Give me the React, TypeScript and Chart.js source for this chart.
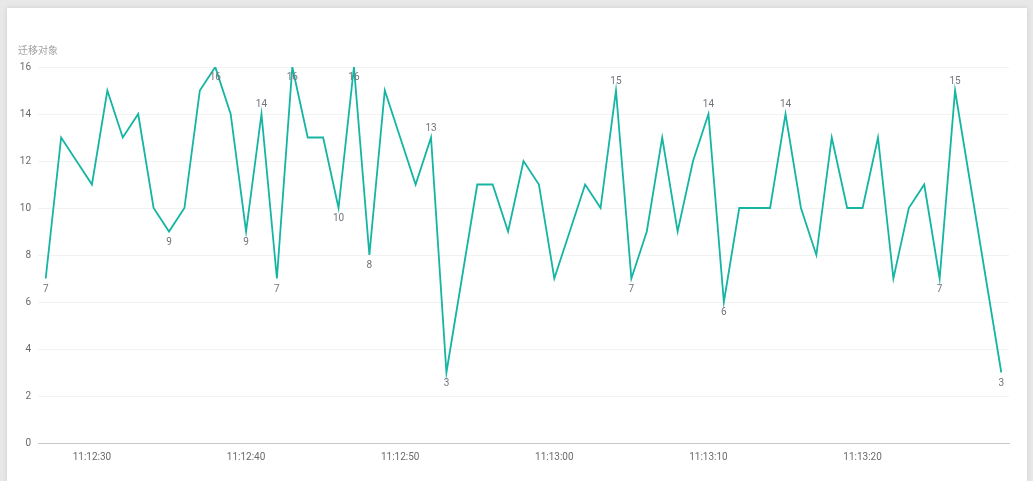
import { useEffect, useRef } from "react";
import { Chart, registerables } from "chart.js";

Chart.register(...registerables);

const times: string[] = [
  "11:12:27", "11:12:28", "11:12:29", "11:12:30", "11:12:31", "11:12:32", "11:12:33", "11:12:34", "11:12:35", "11:12:36",
  "11:12:37", "11:12:38", "11:12:39", "11:12:40", "11:12:41", "11:12:42", "11:12:43", "11:12:44", "11:12:45", "11:12:46",
  "11:12:47", "11:12:48", "11:12:49", "11:12:50", "11:12:51", "11:12:52", "11:12:53", "11:12:54", "11:12:55", "11:12:56",
  "11:12:57", "11:12:58", "11:12:59", "11:13:00", "11:13:01", "11:13:02", "11:13:03", "11:13:04", "11:13:05", "11:13:06",
  "11:13:07", "11:13:08", "11:13:09", "11:13:10", "11:13:11", "11:13:12", "11:13:13", "11:13:14", "11:13:15", "11:13:16",
  "11:13:17", "11:13:18", "11:13:19", "11:13:20", "11:13:21", "11:13:22", "11:13:23", "11:13:24", "11:13:25", "11:13:26",
  "11:13:27", "11:13:28", "11:13:29",
];

const values: number[] = [
  7, 13, 12, 11, 15, 13, 14, 10, 9, 10,
  15, 16, 14, 9, 14, 7, 16, 13, 13, 10,
  16, 8, 15, 13, 11, 13, 3, 7, 11, 11,
  9, 12, 11, 7, 9, 11, 10, 15, 7, 9,
  13, 9, 12, 14, 6, 10, 10, 10, 14, 10,
  8, 13, 10, 10, 13, 7, 10, 11, 7, 15,
  11, 7, 3,
];

const yTicks: number[] = [0, 2, 4, 6, 8, 10, 12, 14, 16];

const labelIdx: number[] = [0, 8, 11, 13, 14, 15, 16, 19, 20, 21, 25, 26, 37, 38, 43, 44, 48, 58, 59, 62];
const labelSide: string[] = [
  "bottom", "bottom", "bottom", "bottom", "top", "bottom", "bottom", "bottom", "bottom", "bottom",
  "top", "bottom", "top", "bottom", "top", "bottom", "top", "bottom", "top", "bottom",
];

const axisTitle = "迁移对象";

const FONT = "'Liberation Sans Narrow', Roboto, 'Noto Sans', sans-serif";

const labelsPlugin = {
  id: "pointLabels",
  afterDatasetsDraw(chart: any) {
    const meta = chart.getDatasetMeta(0);
    const ctx = chart.ctx;
    ctx.save();
    ctx.font = `10px ${FONT}`;
    ctx.fillStyle = "#72727c";
    ctx.textAlign = "center";
    ctx.textBaseline = "middle";
    labelIdx.forEach((idx, k) => {
      const el = meta.data[idx];
      if (!el) return;
      const dy = labelSide[k] === "top" ? -9.5 : 10.5;
      ctx.fillText(String(values[idx]), el.x, el.y + dy);
    });
    ctx.restore();
  },
};

const titlePlugin = {
  id: "axisTitleTop",
  afterDraw(chart: any) {
    const ctx = chart.ctx;
    ctx.save();
    ctx.font = `10px 'Noto Sans CJK SC', sans-serif`;
    ctx.fillStyle = "#a0a0a0";
    ctx.textAlign = "left";
    ctx.textBaseline = "middle";
    ctx.fillText(axisTitle, 11, 42);
    ctx.restore();
  },
};

export default function App() {
  const ref = useRef<HTMLCanvasElement>(null);

  useEffect(() => {
    document.body.style.margin = "0";
    document.body.style.background = "#e8e8e8";
    const chart = new Chart(ref.current as HTMLCanvasElement, {
      type: "line",
      data: {
        labels: times,
        datasets: [
          {
            data: values,
            borderColor: "#14b5a2",
            borderWidth: 1.8,
            pointRadius: 0,
            pointHoverRadius: 0,
            tension: 0,
            fill: false,
          },
        ],
      },
      options: {
        animation: false,
        responsive: false,
        layout: { padding: { top: 59, left: 0, right: 18, bottom: 0 } },
        plugins: {
          legend: { display: false },
          tooltip: { enabled: false },
        },
        scales: {
          x: {
            type: "category",
            offset: true,
            grid: { display: false, drawTicks: false },
            border: { display: true, color: "#c8c8c8", width: 1 },
            ticks: {
              autoSkip: false,
              maxRotation: 0,
              minRotation: 0,
              padding: 8,
              color: "#6a6a6a",
              font: { size: 10, family: FONT },
              callback: (_v: any, i: number) => (times[i].endsWith("0") ? times[i] : ""),
            },
            afterFit: (s: any) => {
              s.height = 38;
            },
          },
          y: {
            min: 0,
            max: 16,
            afterBuildTicks: (s: any) => {
              s.ticks = yTicks.map((v) => ({ value: v }));
            },
            ticks: {
              padding: 7,
              color: "#6a6a6a",
              font: { size: 10, family: FONT },
            },
            grid: { color: "#f2f2f2", drawTicks: false, lineWidth: 1 },
            border: { display: false },
            afterFit: (s: any) => {
              s.width = 31;
            },
          },
        },
      },
      plugins: [labelsPlugin, titlePlugin],
    });
    return () => chart.destroy();
  }, []);

  return (
    <div
      style={{
        position: "absolute",
        left: 7,
        top: 8,
        width: 1020,
        height: 473,
        background: "#fff",
        boxShadow: "0 0 5px rgba(0,0,0,0.12)",
      }}
    >
      <canvas ref={ref} width={1020} height={473} style={{ display: "block" }} />
    </div>
  );
}
